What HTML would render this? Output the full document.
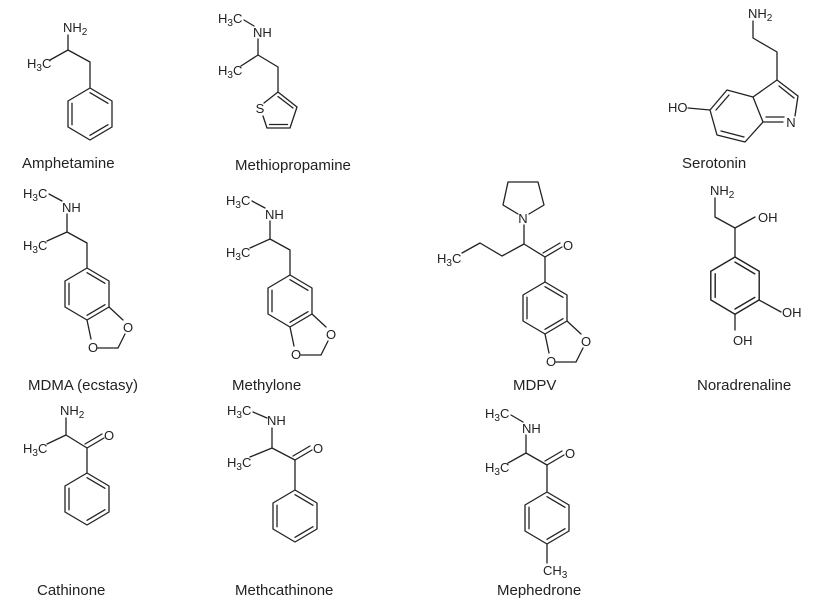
<!DOCTYPE html>
<html><head><meta charset="utf-8"><style>
html,body{margin:0;padding:0;background:#fff;}
svg{display:block;}
text{font-family:"Liberation Sans",Arial,sans-serif;fill:#222;}
.a{font-size:13px;}
.n{font-size:15px;}
line,polyline,polygon{stroke:#222;stroke-width:1.3;fill:none;stroke-linecap:round;stroke-linejoin:round;}
</style></head><body>
<svg width="832" height="601" viewBox="0 0 832 601" xmlns="http://www.w3.org/2000/svg">
<defs>
<g id="bz">
<polygon points="0,0 22,13 22,39 0,52 -22,39 -22,13"/>
<line x1="0" y1="4.7" x2="18" y2="15.3"/>
<line x1="-18" y1="15.3" x2="-18" y2="36.7"/>
<line x1="0" y1="47.3" x2="18" y2="36.7"/>
</g>
<g id="md">
<use href="#bz"/>
<line x1="22" y1="39" x2="36" y2="52"/>
<line x1="0" y1="52" x2="4" y2="71"/>
<line x1="11" y1="80" x2="31" y2="80"/>
<line x1="31" y1="80" x2="38" y2="66"/>
<text class="a" x="41" y="64" text-anchor="middle">O</text>
<text class="a" x="6" y="84" text-anchor="middle">O</text>
</g>
</defs>

<!-- Amphetamine -->
<text class="a" x="63" y="32">NH<tspan font-size="10" dy="3">2</tspan></text>
<text class="a" x="27" y="68">H<tspan font-size="10" dy="3">3</tspan><tspan dy="-3">C</tspan></text>
<polyline points="68,35 68,50 90,62 90,88"/>
<line x1="50" y1="60" x2="68" y2="50"/>
<use href="#bz" x="90" y="88"/>
<text class="n" x="22" y="168">Amphetamine</text>

<!-- Methiopropamine -->
<text class="a" x="218" y="23">H<tspan font-size="10" dy="3">3</tspan><tspan dy="-3">C</tspan></text>
<line x1="244" y1="20" x2="254" y2="26"/>
<text class="a" x="253" y="37">NH</text>
<polyline points="258,39 258,55 278,67 278,92"/>
<line x1="241" y1="66" x2="258" y2="55"/>
<text class="a" x="218" y="75">H<tspan font-size="10" dy="3">3</tspan><tspan dy="-3">C</tspan></text>
<polyline points="264,103 278,92 297,107 290,128 267,128 263,116"/>
<text class="a" x="260" y="113" text-anchor="middle">S</text>
<line x1="278" y1="96.5" x2="293" y2="108"/>
<line x1="287.5" y1="124.5" x2="269.5" y2="124.5"/>
<text class="n" x="235" y="170">Methiopropamine</text>

<!-- Serotonin -->
<text class="a" x="748" y="18">NH<tspan font-size="10" dy="3">2</tspan></text>
<polyline points="753,21 753,38 777,52 777,80"/>
<polyline points="795,116 798,96 777,80 753,97 763,122 783,122"/>
<line x1="779" y1="86" x2="794" y2="98"/>
<line x1="766" y1="117" x2="784" y2="117"/>
<text class="a" x="791" y="127" text-anchor="middle">N</text>
<polyline points="753,97 727,90 710,110 717,135 745,142 763,122"/>
<line x1="729" y1="95" x2="716" y2="110"/>
<line x1="721" y1="131" x2="744" y2="137"/>
<text class="a" x="668" y="112">HO</text>
<line x1="688" y1="108" x2="710" y2="110"/>
<text class="n" x="682" y="168">Serotonin</text>

<!-- MDMA -->
<g>
<text class="a" x="23" y="198">H<tspan font-size="10" dy="3">3</tspan><tspan dy="-3">C</tspan></text>
<line x1="49" y1="194" x2="62" y2="201"/>
<text class="a" x="62" y="212">NH</text>
<polyline points="67,214 67,232 87,243 87,268"/>
<line x1="47" y1="241" x2="67" y2="232"/>
<text class="a" x="23" y="250">H<tspan font-size="10" dy="3">3</tspan><tspan dy="-3">C</tspan></text>
<use href="#md" x="87" y="268"/>
</g>
<text class="n" x="28" y="390">MDMA (ecstasy)</text>

<!-- Methylone -->
<g transform="translate(203,7)">
<text class="a" x="23" y="198">H<tspan font-size="10" dy="3">3</tspan><tspan dy="-3">C</tspan></text>
<line x1="49" y1="194" x2="62" y2="201"/>
<text class="a" x="62" y="212">NH</text>
<polyline points="67,214 67,232 87,243 87,268"/>
<line x1="47" y1="241" x2="67" y2="232"/>
<text class="a" x="23" y="250">H<tspan font-size="10" dy="3">3</tspan><tspan dy="-3">C</tspan></text>
<use href="#md" x="87" y="268"/>
</g>
<text class="n" x="232" y="390">Methylone</text>

<!-- MDPV -->
<polyline points="518,214 503,205 508,182 538,182 544,205 529,214"/>
<text class="a" x="523" y="223" text-anchor="middle">N</text>
<text class="a" x="437" y="263">H<tspan font-size="10" dy="3">3</tspan><tspan dy="-3">C</tspan></text>
<polyline points="462,253 480,243 502,256 524,244 545,257 545,282"/>
<line x1="524" y1="244" x2="524" y2="225"/>
<line x1="545" y1="257" x2="562" y2="247"/>
<line x1="543" y1="253" x2="560" y2="243"/>
<text class="a" x="568" y="250" text-anchor="middle">O</text>
<use href="#md" x="545" y="282"/>
<text class="n" x="513" y="390">MDPV</text>

<!-- Noradrenaline -->
<text class="a" x="710" y="195">NH<tspan font-size="10" dy="3">2</tspan></text>
<polyline points="715,198 715,217 735,228 735,257"/>
<line x1="735" y1="228" x2="755" y2="217"/>
<text class="a" x="758" y="222">OH</text>
<g transform="translate(735,257) scale(1.1)"><use href="#bz"/></g>
<line x1="759" y1="300" x2="781" y2="312"/>
<text class="a" x="782" y="317">OH</text>
<line x1="735" y1="314" x2="735" y2="330"/>
<text class="a" x="733" y="345">OH</text>
<text class="n" x="697" y="390">Noradrenaline</text>

<!-- Cathinone -->
<text class="a" x="60" y="415">NH<tspan font-size="10" dy="3">2</tspan></text>
<text class="a" x="23" y="453">H<tspan font-size="10" dy="3">3</tspan><tspan dy="-3">C</tspan></text>
<polyline points="66,418 66,435 87,448 87,473"/>
<line x1="47" y1="444" x2="66" y2="435"/>
<line x1="87" y1="448" x2="104" y2="438"/>
<line x1="85" y1="444" x2="102" y2="434"/>
<text class="a" x="109" y="440" text-anchor="middle">O</text>
<use href="#bz" x="87" y="473"/>
<text class="n" x="37" y="595">Cathinone</text>

<!-- Methcathinone -->
<text class="a" x="227" y="415">H<tspan font-size="10" dy="3">3</tspan><tspan dy="-3">C</tspan></text>
<line x1="253" y1="412" x2="267" y2="418"/>
<text class="a" x="267" y="425">NH</text>
<polyline points="272,428 272,448 295,460 295,490"/>
<line x1="250" y1="457" x2="272" y2="448"/>
<line x1="295" y1="460" x2="312" y2="450"/>
<line x1="293" y1="456" x2="310" y2="446"/>
<text class="a" x="318" y="453" text-anchor="middle">O</text>
<text class="a" x="227" y="467">H<tspan font-size="10" dy="3">3</tspan><tspan dy="-3">C</tspan></text>
<use href="#bz" x="295" y="490"/>
<text class="n" x="235" y="595">Methcathinone</text>

<!-- Mephedrone -->
<text class="a" x="485" y="418">H<tspan font-size="10" dy="3">3</tspan><tspan dy="-3">C</tspan></text>
<line x1="511" y1="415" x2="523" y2="422"/>
<text class="a" x="522" y="433">NH</text>
<polyline points="526,435 526,453 547,465 547,492"/>
<line x1="508" y1="463" x2="526" y2="453"/>
<line x1="547" y1="465" x2="564" y2="455"/>
<line x1="545" y1="461" x2="562" y2="451"/>
<text class="a" x="570" y="458" text-anchor="middle">O</text>
<text class="a" x="485" y="472">H<tspan font-size="10" dy="3">3</tspan><tspan dy="-3">C</tspan></text>
<use href="#bz" x="547" y="492"/>
<line x1="547" y1="544" x2="547" y2="563"/>
<text class="a" x="543" y="575">CH<tspan font-size="10" dy="3">3</tspan></text>
<text class="n" x="497" y="595">Mephedrone</text>
</svg>
</body></html>
